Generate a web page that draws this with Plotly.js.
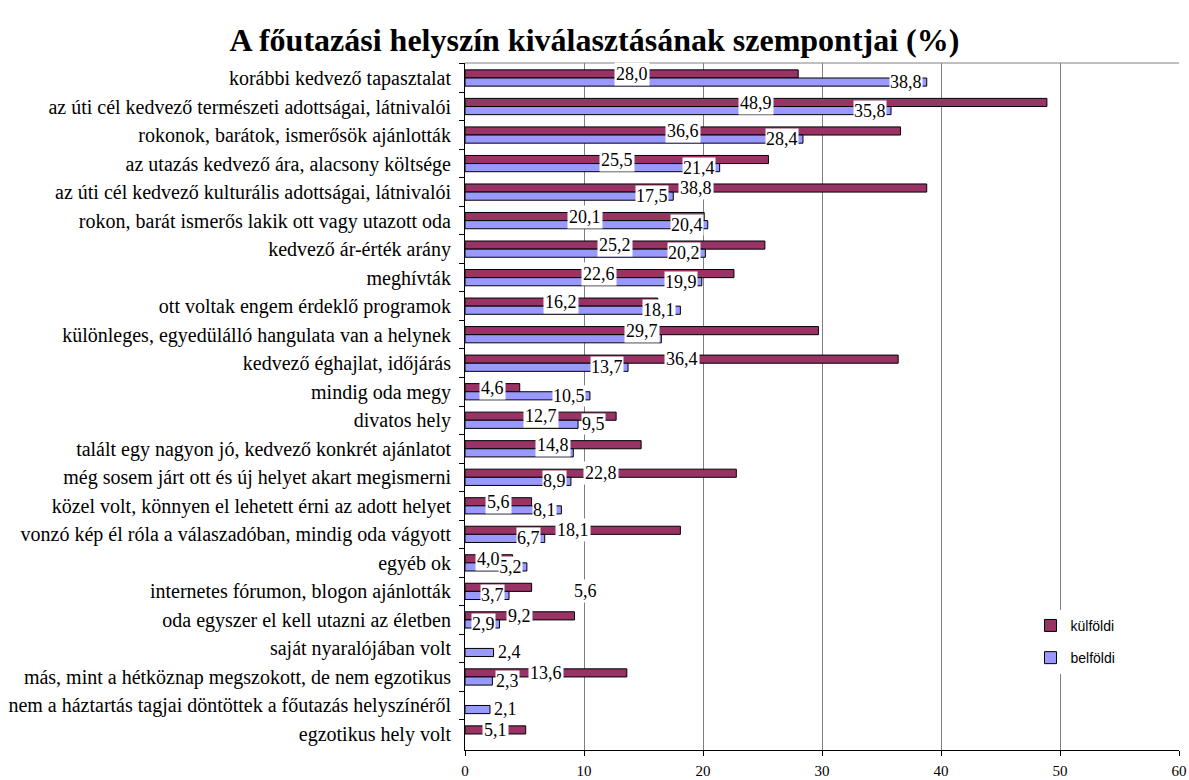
<!DOCTYPE html>
<html>
<head>
<meta charset="utf-8">
<script src="https://cdn.plot.ly/plotly-3.0.1.min.js"></script>
<style>
  body { margin: 0; background: #fff; }
  #chart { width: 1189px; height: 780px; }
</style>
</head>
<body>
<div id="chart"></div>
<script>
// szempontok, felülről lefelé
const categories = [
  'korábbi kedvező tapasztalat',
  'az úti cél kedvező természeti adottságai, látnivalói',
  'rokonok, barátok, ismerősök ajánlották',
  'az utazás kedvező ára, alacsony költsége',
  'az úti cél kedvező kulturális adottságai, látnivalói',
  'rokon, barát ismerős lakik ott vagy utazott oda',
  'kedvező ár-érték arány',
  'meghívták',
  'ott voltak engem érdeklő programok',
  'különleges, egyedülálló hangulata van a helynek',
  'kedvező éghajlat, időjárás',
  'mindig oda megy',
  'divatos hely',
  'talált egy nagyon jó, kedvező konkrét ajánlatot',
  'még sosem járt ott és új helyet akart megismerni',
  'közel volt, könnyen el lehetett érni az adott helyet',
  'vonzó kép él róla a válaszadóban, mindig oda vágyott',
  'egyéb ok',
  'internetes fórumon, blogon ajánlották',
  'oda egyszer el kell utazni az életben',
  'saját nyaralójában volt',
  'más, mint a hétköznap megszokott, de nem egzotikus',
  'nem a háztartás tagjai döntöttek a főutazás helyszínéről',
  'egzotikus hely volt'
];

const kulfoldi = [28.0, 48.9, 36.6, 25.5, 38.8, 20.1, 25.2, 22.6, 16.2, 29.7, 36.4, 4.6,
                  12.7, 14.8, 22.8, 5.6, 18.1, 4.0, 5.6, 9.2, null, 13.6, null, 5.1];
const belfoldi = [38.8, 35.8, 28.4, 21.4, 17.5, 20.4, 20.2, 19.9, 18.1, 16.5, 13.7, 10.5,
                  9.5, 9.1, 8.9, 8.1, 6.7, 5.2, 3.7, 2.9, 2.4, 2.3, 2.1, null];

const seriesNames = ['külföldi', 'belföldi'];
const seriesColors = ['#993366', '#9999FF'];

const fmt = v => v.toFixed(1).replace('.', ',');
const serif = 'Liberation Serif';

const traces = [kulfoldi, belfoldi].map((vals, i) => ({
  type: 'bar',
  orientation: 'h',
  name: seriesNames[i],
  legendgroup: 'g' + i,
  y: categories,
  x: vals,
  marker: { color: seriesColors[i], line: { color: '#000', width: 1 } },
  hoverinfo: 'skip'
}));

// adatfeliratok: belföldi a sáv végén, külföldi a sáv közepén (ez kerül felülre)
const xMax = 60, plotW = 1189 - 465 - 10;
const ppu = plotW / xMax;      // pixel / egység
const labelSize = 18;
const textW = v => (fmt(v).length - 1) * 0.5 * labelSize + 0.25 * labelSize;
const belAnn = [], kulAnn = [];
const labelFont = { family: serif, size: labelSize, color: '#000' };

categories.forEach((cat, i) => {
  const k = kulfoldi[i], b = belfoldi[i];
  let showBel = b !== null;
  let belOutside = b !== null && textW(b) + 8 > b * ppu;
  let kulOutside = false;
  if (k !== null && b !== null) {
    const kc = k / 2 * ppu, kw = textW(k);
    const bR = b * ppu - 4, bL = bR - textW(b);
    const overlap = Math.min(kc + kw / 2, bR) - Math.max(kc - kw / 2, bL);
    if (overlap > 8) {
      if (k * ppu > 100) showBel = false;
      else kulOutside = true;
    } else if (overlap > 0) {
      belOutside = true;
    }
  }
  if (showBel) {
    belAnn.push({
      x: b, y: cat, xref: 'x', yref: 'y', text: fmt(b), showarrow: false,
      xanchor: belOutside ? 'left' : 'right', yanchor: 'middle',
      xshift: belOutside ? 3 : -4, yshift: -4,
      bgcolor: '#fff', borderpad: 0, font: labelFont
    });
  }
  if (k !== null) {
    kulAnn.push({
      x: kulOutside ? k : k / 2, y: cat, xref: 'x', yref: 'y', text: fmt(k), showarrow: false,
      xanchor: kulOutside ? 'left' : 'center', yanchor: 'middle',
      xshift: kulOutside ? 40 : 0, yshift: kulOutside ? 0 : 4,
      bgcolor: '#fff', borderpad: 1, font: labelFont
    });
  }
});

const layout = {
  width: 1189,
  height: 780,
  margin: { l: 465, r: 10, t: 63, b: 30 },
  paper_bgcolor: '#fff',
  plot_bgcolor: '#fff',
  barmode: 'group',
  bargap: 0.43,
  bargroupgap: 0,
  title: {
    text: '<b>A főutazási helyszín kiválasztásának szempontjai (%)</b>',
    font: { family: serif, size: 32, color: '#000' },
    x: 0.5, xref: 'container', y: 0.949, yref: 'container', yanchor: 'middle'
  },
  xaxis: {
    range: [0, xMax], dtick: 10, showgrid: true, gridcolor: '#808080', gridwidth: 1,
    zeroline: false, showline: true, linecolor: '#000', linewidth: 1,
    ticks: 'outside', ticklen: 5, tickcolor: '#000', ticklabelstandoff: 2,
    tickfont: { family: serif, size: 15, color: '#000' }, fixedrange: true
  },
  yaxis: {
    type: 'category', autorange: 'reversed', categoryorder: 'array', categoryarray: categories,
    showgrid: false, zeroline: false, showline: true, linecolor: '#000', linewidth: 1,
    ticks: 'outside', tickson: 'boundaries', ticklen: 5, tickcolor: '#000',
    ticklabelstandoff: 9,
    tickfont: { family: serif, size: 20, color: '#000' }, fixedrange: true
  },
  legend: {
    x: 0.792, y: 0.204, xanchor: 'left', yanchor: 'top',
    bgcolor: '#fff', traceorder: 'grouped', tracegroupgap: 11,
    font: { family: 'Liberation Sans', size: 14, color: '#000' }
  },
  shapes: [{
    type: 'line', xref: 'paper', yref: 'paper', x0: 0, x1: 1, y0: 1, y1: 1,
    line: { color: '#808080', width: 1 }
  }],
  annotations: belAnn.concat(kulAnn)
};

Plotly.newPlot('chart', traces, layout, { displayModeBar: false, staticPlot: true });
</script>
</body>
</html>
